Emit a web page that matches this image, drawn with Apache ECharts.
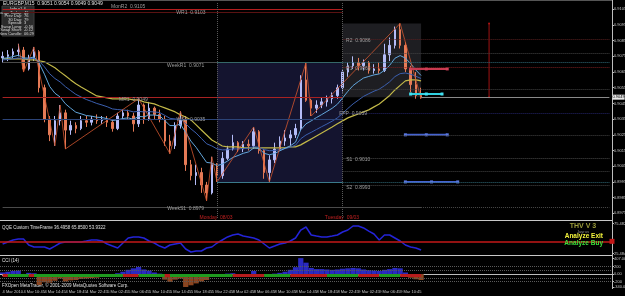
<!DOCTYPE html>
<html>
<head>
<meta charset="utf-8">
<script src="https://cdn.jsdelivr.net/npm/echarts@6.0.0/dist/echarts.min.js"></script>
<style>
  html, body { margin: 0; padding: 0; background: #000; }
  #chart { width: 625px; height: 296px; }
</style>
</head>
<body>
<div id="chart"></div>
<script>
// EURGBP M15 (hourly candles)

var timeLabels = ['4 Mar 2010', '4 Mar 10:45', '4 Mar 14:45', '4 Mar 18:45', '4 Mar 22:45',
  '5 Mar 02:45', '5 Mar 06:45', '5 Mar 10:45', '5 Mar 14:45', '5 Mar 18:45', '5 Mar 22:45',
  '8 Mar 02:45', '8 Mar 06:45', '8 Mar 10:45', '8 Mar 14:45', '8 Mar 18:45', '8 Mar 22:45',
  '9 Mar 02:45', '9 Mar 06:45', '9 Mar 10:45', '9 Mar 14:45'];

var priceTicks = [0.9105, 0.9095, 0.9085, 0.9075, 0.9065, 0.9055, 0.9045, 0.9035,
  0.9025, 0.9015, 0.9005, 0.8995, 0.8985, 0.8975];

// [open, close, low, high]
var candles = [
  [0.9074, 0.9075, 0.9071, 0.9078], [0.9075, 0.9076, 0.9072, 0.9079], [0.9076, 0.9078, 0.9074, 0.9080],
  [0.9078, 0.9079, 0.9075, 0.9083], [0.9079, 0.9067, 0.9065, 0.9081], [0.9067, 0.9074, 0.9066, 0.9076],
  [0.9074, 0.9078, 0.9072, 0.9081], [0.9078, 0.9055, 0.9052, 0.9079], [0.9055, 0.9035, 0.9033, 0.9057],
  [0.9035, 0.9025, 0.9021, 0.9037], [0.9025, 0.9034, 0.9018, 0.9037], [0.9034, 0.9039, 0.9031, 0.9044],
  [0.9039, 0.9028, 0.9016, 0.9041], [0.9028, 0.9031, 0.9025, 0.9034], [0.9031, 0.9029, 0.9026, 0.9033],
  [0.9029, 0.9034, 0.9028, 0.9037], [0.9034, 0.9033, 0.9030, 0.9037], [0.9033, 0.9035, 0.9031, 0.9037],
  [0.9035, 0.9034, 0.9032, 0.9038], [0.9034, 0.9035, 0.9032, 0.9037], [0.9035, 0.9033, 0.9030, 0.9037],
  [0.9033, 0.9029, 0.9027, 0.9035], [0.9029, 0.9037, 0.9028, 0.9039], [0.9037, 0.9039, 0.9035, 0.9041],
  [0.9039, 0.9037, 0.9035, 0.9041], [0.9037, 0.9032, 0.9027, 0.9039], [0.9032, 0.9044, 0.9030, 0.9048],
  [0.9044, 0.9035, 0.9032, 0.9045], [0.9035, 0.9042, 0.9034, 0.9046], [0.9042, 0.9038, 0.9035, 0.9043],
  [0.9038, 0.9035, 0.9033, 0.9041], [0.9035, 0.9021, 0.9018, 0.9037], [0.9021, 0.9018, 0.9013, 0.9025],
  [0.9018, 0.9031, 0.9016, 0.9033], [0.9031, 0.9035, 0.9029, 0.9040], [0.9035, 0.9006, 0.9002, 0.9037],
  [0.9006, 0.8999, 0.8996, 0.9009], [0.8999, 0.9001, 0.8993, 0.9006], [0.9001, 0.8993, 0.8988, 0.9004],
  [0.8993, 0.8988, 0.8983, 0.8995], [0.8988, 0.9006, 0.8987, 0.9011], [0.9006, 0.8999, 0.8995, 0.9007],
  [0.8999, 0.9010, 0.8997, 0.9014], [0.9010, 0.9016, 0.9009, 0.9018], [0.9016, 0.9020, 0.9015, 0.9025],
  [0.9020, 0.9016, 0.9014, 0.9021], [0.9016, 0.9019, 0.9014, 0.9021], [0.9019, 0.9018, 0.9015, 0.9022],
  [0.9018, 0.9027, 0.9016, 0.9030], [0.9027, 0.9015, 0.9013, 0.9028], [0.9015, 0.9001, 0.8997, 0.9016],
  [0.9001, 0.9009, 0.8995, 0.9012], [0.9009, 0.9016, 0.9007, 0.9020], [0.9016, 0.9021, 0.9015, 0.9024],
  [0.9021, 0.9023, 0.9018, 0.9028], [0.9023, 0.9025, 0.9018, 0.9028], [0.9025, 0.9029, 0.9023, 0.9032],
  [0.9029, 0.9060, 0.9028, 0.9063], [0.9060, 0.9047, 0.9046, 0.9071], [0.9047, 0.9042, 0.9037, 0.9048],
  [0.9042, 0.9044, 0.9039, 0.9047], [0.9044, 0.9046, 0.9042, 0.9049], [0.9046, 0.9048, 0.9043, 0.9050],
  [0.9048, 0.9050, 0.9045, 0.9052], [0.9050, 0.9055, 0.9048, 0.9057], [0.9055, 0.9065, 0.9052, 0.9067],
  [0.9065, 0.9069, 0.9062, 0.9071], [0.9069, 0.9071, 0.9067, 0.9075], [0.9071, 0.9069, 0.9066, 0.9074],
  [0.9069, 0.9071, 0.9066, 0.9073], [0.9071, 0.9066, 0.9064, 0.9072], [0.9066, 0.9067, 0.9064, 0.9070],
  [0.9067, 0.9066, 0.9064, 0.9071], [0.9066, 0.9076, 0.9065, 0.9083], [0.9076, 0.9082, 0.9072, 0.9087],
  [0.9082, 0.9092, 0.9080, 0.9094], [0.9092, 0.9082, 0.9080, 0.9096], [0.9082, 0.9067, 0.9065, 0.9084],
  [0.9067, 0.9057, 0.9052, 0.9069], [0.9057, 0.9050, 0.9048, 0.9065], [0.9050, 0.9049, 0.9048, 0.9055]
];

var maYellow = [0.90734, 0.90734, 0.90734, 0.90734, 0.90734, 0.90728, 0.90728, 0.90722, 0.90715, 0.90696,
  0.90677, 0.90651, 0.90626, 0.90600, 0.90575, 0.90555, 0.90536, 0.90517, 0.90498, 0.90492,
  0.90485, 0.90479, 0.90479, 0.90479, 0.90479, 0.90473, 0.90473, 0.90460, 0.90454, 0.90447,
  0.90434, 0.90422, 0.90409, 0.90396, 0.90377, 0.90364, 0.90345, 0.90313, 0.90281, 0.90249,
  0.90217, 0.90198, 0.90179, 0.90173, 0.90173, 0.90173, 0.90167, 0.90167, 0.90167, 0.90167,
  0.90167, 0.90167, 0.90167, 0.90167, 0.90167, 0.90173, 0.90173, 0.90186, 0.90205, 0.90224,
  0.90243, 0.90262, 0.90281, 0.90300, 0.90320, 0.90339, 0.90358, 0.90371, 0.90383, 0.90396,
  0.90409, 0.90428, 0.90447, 0.90473, 0.90501, 0.90536, 0.90565, 0.90594, 0.90600, 0.90600, 0.90594];

var maFast = [0.90737, 0.90741, 0.90748, 0.90757, 0.90740, 0.90739, 0.90746, 0.90706, 0.90636, 0.90558,
  0.90515, 0.90491, 0.90448, 0.90420, 0.90394, 0.90384, 0.90373, 0.90369, 0.90362, 0.90360,
  0.90353, 0.90341, 0.90346, 0.90354, 0.90358, 0.90349, 0.90367, 0.90365, 0.90376, 0.90376,
  0.90372, 0.90341, 0.90309, 0.90309, 0.90318, 0.90265, 0.90210, 0.90170, 0.90122, 0.90074,
  0.90070, 0.90054, 0.90063, 0.90083, 0.90106, 0.90118, 0.90132, 0.90141, 0.90166, 0.90163,
  0.90132, 0.90123, 0.90131, 0.90148, 0.90164, 0.90180, 0.90203, 0.90282, 0.90320, 0.90339,
  0.90360, 0.90379, 0.90399, 0.90419, 0.90445, 0.90485, 0.90527, 0.90564, 0.90589, 0.90612,
  0.90622, 0.90632, 0.90638, 0.90661, 0.90693, 0.90738, 0.90755, 0.90739, 0.90704, 0.90663, 0.90628];

var maSlow = [0.90727, 0.90730, 0.90735, 0.90740, 0.90734, 0.90734, 0.90738, 0.90719, 0.90683, 0.90639,
  0.90609, 0.90587, 0.90557, 0.90532, 0.90508, 0.90491, 0.90475, 0.90463, 0.90450, 0.90440,
  0.90429, 0.90415, 0.90411, 0.90408, 0.90405, 0.90396, 0.90400, 0.90396, 0.90398, 0.90396,
  0.90392, 0.90374, 0.90355, 0.90351, 0.90351, 0.90321, 0.90288, 0.90261, 0.90227, 0.90193,
  0.90179, 0.90160, 0.90154, 0.90155, 0.90160, 0.90160, 0.90163, 0.90164, 0.90174, 0.90171,
  0.90156, 0.90149, 0.90150, 0.90156, 0.90163, 0.90171, 0.90184, 0.90225, 0.90249, 0.90266,
  0.90284, 0.90302, 0.90319, 0.90337, 0.90358, 0.90387, 0.90418, 0.90447, 0.90471, 0.90495,
  0.90512, 0.90528, 0.90541, 0.90563, 0.90588, 0.90621, 0.90640, 0.90644, 0.90636, 0.90623, 0.90609];

// zigzag swing points [bar, price]
var zigzag = [[3, 0.9083], [4, 0.9065], [6, 0.9081], [10, 0.9018], [11, 0.9044], [12, 0.9016],
  [26, 0.9048], [32, 0.9013], [34, 0.9040], [39, 0.8983], [40, 0.9011], [41, 0.8995],
  [48, 0.9030], [51, 0.8995], [58, 0.9071], [59, 0.9037], [76, 0.9096], [80, 0.9048]];

var weekPivotNames = ['MonR2', 'WR1', 'WeekR1', 'MR1', 'WS1', 'WeekS1'];
var weekPivotValues = [0.9105, 0.9103, 0.9071, 0.9049, 0.9035, 0.8979];
var dayPivotNames = ['R2', 'R1', 'FPP', 'S1', 'S2'];
var dayPivotValues = [0.9086, 0.9068, 0.9039, 0.9010, 0.8993];
var otherLevels = [0.9077, 0.9054, 0.9025, 0.9002];
var mondayRange = [0.9071, 0.8995];
var tuesdayRange = [0.9096, 0.9049];
var bidPrice = 0.9049;

// trade level markers [bar, price]
var markerSell = [[78, 0.9067], [81, 0.9067], [85, 0.9067]];
var markerTp = [[78, 0.9051], [81, 0.9051], [84, 0.9051]];
var markerBuy1 = [[77, 0.9025], [81, 0.9025], [85, 0.9025]];
var markerBuy2 = [[77, 0.8995], [82, 0.8995], [87, 0.8995]];
var rangeBar = [[93, 0.9096], [93, 0.9049]];

var qqe = [41.6, 44.9, 48.2, 49.8, 49.8, 39.9, 36.6, 36.6, 36.6, 33.3,
  38.2, 43.2, 44.9, 44.9, 44.9, 44.9, 46.5, 48.2, 48.2, 46.5,
  41.6, 38.2, 34.9, 43.2, 51.5, 53.2, 53.2, 51.5, 46.5, 43.2,
  38.2, 34.9, 39.9, 41.6, 43.2, 33.3, 28.3, 30.0, 30.0, 34.9,
  36.6, 43.2, 48.2, 53.2, 56.5, 58.1, 54.8, 53.2, 51.5, 48.2,
  41.6, 34.9, 38.2, 41.6, 43.2, 46.5, 51.5, 64.7, 69.7, 56.5,
  54.8, 53.2, 53.2, 54.8, 56.5, 61.4, 64.7, 71.4, 71.4, 68.1,
  63.0, 58.1, 48.2, 56.5, 56.5, 51.5, 46.5, 39.9, 36.6, 34.9, 31.6];
var qqeLevel = 46;
var qqeTicks = [25.4846, 75.482];

var cci = [40, 60, 80, 90, -40, 30, 20, -290, -220, -230,
  -180, -120, -200, -170, -160, -130, -120, -110, -100, -80,
  -60, -50, 20, 60, 110, 150, 185, 120, 90, 40,
  10, -150, -210, -150, -120, -370, -300, -250, -200, -160,
  -60, -40, -20, 10, 20, -30, -40, -20, 80, -30,
  -60, -40, 10, 30, 60, 110, 180, 420, 300, 160,
  130, 130, 120, 110, 120, 140, 150, 160, 150, 120,
  100, 90, 80, 110, 130, 160, 150, 40, -100, -140, -160];
var cciTicks = [407.003, 200, 0, -200, -340.03];
var cciLevels = [200, 100, -100, -200];
// [fromBar, toBar, state]
var cciBands = [[0, 1, 'dn'], [1, 5, 'up'], [5, 6, 'dn'], [6, 23, 'up'], [23, 26, 'dn'], [26, 31, 'up'],
  [31, 32, 'dn'], [32, 44, 'up'], [44, 50, 'dn'], [50, 55, 'up'], [55, 62, 'dn'], [62, 68, 'up'],
  [68, 72, 'dn'], [72, 76, 'up'], [76, 80, 'dn']];

var infoRows = [['Range Today:', '46'], ['Prev Day:', '76'], ['30 Day:', '79'], ['Spread:', '3'],
  ['Swap Long:', '-0.56'], ['Swap Short:', '-0.12'], ['New Candle:', '06:29']];

var TOTAL_BARS = 117;
var cats = [];
for (var i = 0; i < TOTAL_BARS; i++) cats.push(String(i));

var chart = echarts.init(document.getElementById('chart'), null, { renderer: 'canvas' });

/** horizontal level segment */
function seg(from, to, price, color, type, width) {
  return [{ coord: [from, price], lineStyle: { color: color, type: type || 'solid', width: width || 1 } },
    { coord: [to, price] }];
}

var last = TOTAL_BARS - 1;
var levelLines = [
  seg(0, 65, weekPivotValues[0], '#b41e1e'),
  seg(0, 65, weekPivotValues[1], '#5a1212'),
  seg(0, 41, weekPivotValues[2], '#4a4a4a'),
  seg(41, 65, mondayRange[0], '#356868'),
  seg(65, last, mondayRange[0], '#2f6a78', 'dotted'),
  seg(0, 65, weekPivotValues[3], '#a82222'),
  seg(0, 65, weekPivotValues[4], '#2c4478'),
  seg(0, 80, weekPivotValues[5], '#4a4a4a'),
  seg(80, last, weekPivotValues[5], '#4a4a4a', 'dotted'),
  seg(41, 65, mondayRange[1], '#3a7a8a'),
  seg(65, last, mondayRange[1], '#2f6a78', 'dotted'),
  seg(65, last, dayPivotValues[0], '#5a2020', 'dotted'),
  seg(65, last, dayPivotValues[1], '#7a2020', 'dotted'),
  seg(65, last, dayPivotValues[2], '#24246a', 'dotted'),
  seg(65, last, dayPivotValues[3], '#4a4a4a', 'dotted'),
  seg(65, last, dayPivotValues[4], '#4a4a4a', 'dotted')
];
otherLevels.forEach(function (v) { levelLines.push(seg(65, last, v, '#444', 'dotted')); });
levelLines.push({ xAxis: 41, lineStyle: { color: '#5a5a5a', type: 'dotted', width: 1 } });
levelLines.push({ xAxis: 65, lineStyle: { color: '#5a5a5a', type: 'dotted', width: 1 } });
levelLines.push([
  { coord: [80, bidPrice], lineStyle: { color: '#8a8a8a', width: 1, type: 'solid' },
    label: { show: true, position: 'end', distance: 3, formatter: bidPrice.toFixed(4),
      backgroundColor: '#e8e8e8', color: '#000', fontSize: 4, padding: [1, 0, 0, 0] } },
  { coord: [last, bidPrice] }
]);

// label anchor bars for the pivot texts
var weekLabelBars = [24, 36, 35, 25, 36, 35];
var weekLabelOffsets = [0.00018, 0.0000, -0.00021, -0.00018, 0.0000, -0.00013];
var dayLabelBars = [68, 68, 67, 68, 68];
var dayLabelOffsets = [-0.00012, -0.00011, -0.00007, -0.0001, -0.00019];
var pivotTexts = [];
weekPivotNames.forEach(function (n, k) {
  pivotTexts.push({ name: n + '  ' + weekPivotValues[k].toFixed(4),
    coord: [weekLabelBars[k], weekPivotValues[k] + weekLabelOffsets[k]] });
});
dayPivotNames.forEach(function (n, k) {
  pivotTexts.push({ name: n + '  ' + dayPivotValues[k].toFixed(4),
    coord: [dayLabelBars[k], dayPivotValues[k] + dayLabelOffsets[k]] });
});

var bandLines = cciBands.map(function (b) {
  return [{ coord: [b[0], -25], lineStyle: { color: b[2] === 'up' ? '#1f9a1f' : '#b81c1c', width: 3, type: 'solid' } },
    { coord: [b[1], -25] }];
});
var cciDotted = cciLevels.map(function (v) {
  return { yAxis: v, lineStyle: { color: '#5a5a5a', type: 'dotted', width: 1 } };
});

function isLabelBar(i) { return i % 4 === 0 && i / 4 < timeLabels.length; }

var axisText = { color: '#c8c8c8', fontSize: 4, fontFamily: 'Liberation Sans' };

function xAx(grid, showLabels) {
  return {
    type: 'category', gridIndex: grid, data: cats, boundaryGap: true,
    axisLine: { show: showLabels, lineStyle: { color: '#bdbdbd' } },
    axisTick: { show: showLabels, alignWithLabel: true, interval: function (i) { return isLabelBar(i); },
      length: 2, lineStyle: { color: '#bdbdbd' } },
    axisLabel: { show: showLabels, interval: function (i) { return isLabelBar(i); },
      formatter: function (v, i) { return timeLabels[i / 4]; }, hideOverlap: false,
      align: 'left', margin: 3, color: '#c8c8c8', fontSize: 4, fontFamily: 'Liberation Sans' },
    splitLine: { show: false }
  };
}

var option = {
  backgroundColor: '#000',
  animation: false,
  textStyle: { fontFamily: 'Liberation Sans' },
  grid: [
    { left: 0, right: 13, top: 3, height: 215, outerBoundsMode: 'none', containLabel: false },
    { left: 0, right: 13, top: 222, height: 32, outerBoundsMode: 'none', containLabel: false },
    { left: 0, right: 13, top: 257, height: 30, outerBoundsMode: 'none', containLabel: false }
  ],
  xAxis: [xAx(0, false), xAx(1, false), xAx(2, true)],
  yAxis: [
    { type: 'value', gridIndex: 0, position: 'right', min: 0.8972, max: 0.9109, scale: true,
      axisLine: { show: false }, splitLine: { show: false },
      axisTick: { show: true, customValues: priceTicks, length: 2, lineStyle: { color: '#bdbdbd' } },
      axisLabel: Object.assign({ customValues: priceTicks, margin: 2,
        formatter: function (v) { return v.toFixed(4); } }, axisText) },
    { type: 'value', gridIndex: 1, position: 'right', min: 25, max: 78,
      axisLine: { show: false }, splitLine: { show: false },
      axisTick: { show: true, customValues: qqeTicks, length: 2, lineStyle: { color: '#bdbdbd' } },
      axisLabel: Object.assign({ customValues: qqeTicks, margin: 2,
        formatter: function (v) { return v.toFixed(4); } }, axisText) },
    { type: 'value', gridIndex: 2, position: 'right', min: -345, max: 450,
      axisLine: { show: false }, splitLine: { show: false },
      axisTick: { show: true, customValues: cciTicks, length: 2, lineStyle: { color: '#bdbdbd' } },
      axisLabel: Object.assign({ customValues: cciTicks, margin: 2,
        formatter: function (v) { return v === 0 ? '0.00' : String(v); } }, axisText) }
  ],
  series: [
    {
      type: 'candlestick', xAxisIndex: 0, yAxisIndex: 0, data: candles,
      barMaxWidth: 2, barMinWidth: 1,
      itemStyle: { color: '#b4bcf8', color0: '#e47a56', borderColor: '#b4bcf8', borderColor0: '#e47a56', borderWidth: 1 },
      markArea: {
        silent: true,
        data: [
          [{ coord: [41, mondayRange[0]], itemStyle: { color: '#14142f' } }, { coord: [65, mondayRange[1]] }],
          [{ coord: [65, tuesdayRange[0]], itemStyle: { color: '#1e1e22' } }, { coord: [80, tuesdayRange[1]] }]
        ]
      },
      markLine: { silent: true, symbol: 'none', label: { show: false }, data: levelLines },
      markPoint: {
        silent: true, symbol: 'rect', symbolSize: 1,
        itemStyle: { color: 'rgba(0,0,0,0)' },
        label: { show: true, position: 'inside', formatter: '{b}', color: '#9c9c9c', fontSize: 5 },
        data: pivotTexts
      }
    },
    { type: 'line', xAxisIndex: 0, yAxisIndex: 0, data: maYellow, symbol: 'none',
      lineStyle: { color: '#c2b848', width: 1.2 } },
    { type: 'line', xAxisIndex: 0, yAxisIndex: 0, data: maSlow, symbol: 'none',
      lineStyle: { color: '#3b5fae', width: 1 } },
    { type: 'line', xAxisIndex: 0, yAxisIndex: 0, data: maFast, symbol: 'none',
      lineStyle: { color: '#62a6dc', width: 1 } },
    { type: 'line', xAxisIndex: 0, yAxisIndex: 0, data: zigzag, symbol: 'none',
      lineStyle: { color: '#d0562e', width: 0.8 } },
    { type: 'line', xAxisIndex: 0, yAxisIndex: 0, data: rangeBar, symbol: 'circle', symbolSize: 2,
      itemStyle: { color: '#b01414' }, lineStyle: { color: '#a01212', width: 1 } },
    { type: 'line', xAxisIndex: 0, yAxisIndex: 0, data: markerSell, symbol: 'rect', symbolSize: 3,
      itemStyle: { color: '#d04058' }, lineStyle: { color: '#c83a50', width: 2 } },
    { type: 'line', xAxisIndex: 0, yAxisIndex: 0, data: markerTp, symbol: 'rect', symbolSize: 3,
      itemStyle: { color: '#40e0f0' }, lineStyle: { color: '#30d0e0', width: 2 } },
    { type: 'line', xAxisIndex: 0, yAxisIndex: 0, data: markerBuy1, symbol: 'rect', symbolSize: 3,
      itemStyle: { color: '#5a78e0' }, lineStyle: { color: '#4563d0', width: 2 } },
    { type: 'line', xAxisIndex: 0, yAxisIndex: 0, data: markerBuy2, symbol: 'rect', symbolSize: 3,
      itemStyle: { color: '#5a78e0' }, lineStyle: { color: '#4563d0', width: 2 } },
    {
      type: 'line', xAxisIndex: 1, yAxisIndex: 1, data: qqe, symbol: 'none',
      lineStyle: { color: '#2424d8', width: 1.5 },
      markLine: {
        silent: true, symbol: ['none', 'rect'], symbolSize: 5, label: { show: false },
        data: [{ yAxis: qqeLevel, lineStyle: { color: '#c41818', width: 1.5, type: 'solid' }, itemStyle: { color: '#d02020' } }]
      }
    },
    {
      type: 'bar', xAxisIndex: 2, yAxisIndex: 2, data: cci, barCategoryGap: '0%',
      itemStyle: { color: function (p) { return p.value >= 0 ? '#2a2ac0' : '#8a4520'; } },
      markLine: { silent: true, symbol: 'none', label: { show: false }, data: cciDotted.concat(bandLines) }
    }
  ],
  graphic: [
    { type: 'line', shape: { x1: 612.5, y1: 0, x2: 612.5, y2: 289 }, style: { stroke: '#bdbdbd', lineWidth: 1 } },
    { type: 'line', shape: { x1: 0, y1: 0.5, x2: 612, y2: 0.5 }, style: { stroke: '#555', lineWidth: 1 } },
    { type: 'line', shape: { x1: 0, y1: 220.5, x2: 612, y2: 220.5 }, style: { stroke: '#c8c8c8', lineWidth: 1 } },
    { type: 'line', shape: { x1: 0, y1: 255.5, x2: 612, y2: 255.5 }, style: { stroke: '#c8c8c8', lineWidth: 1 } },
    { type: 'text', left: 3, top: 1, style: { text: 'EURGBP,M15  0.9051 0.9054 0.9049 0.9049', fill: '#e0e0e0', fontSize: 5 } },
    { type: 'rect', shape: { x: 2, y: 6, width: 32, height: 30 }, style: { fill: '#2b2b2b', stroke: '#3c3c3c' } },
    { type: 'text', x: 18, y: 7, style: { text: '---- Info v1.4 ----', fill: '#e0e0e0', fontSize: 4, align: 'center' } }
  ].concat(infoRows.map(function (r, k) {
    return { type: 'group', children: [
      { type: 'text', x: 22, y: 10.8 + k * 3.5, style: { text: r[0], fill: '#d8d8d8', fontSize: 4, align: 'right' } },
      { type: 'text', x: 24, y: 10.8 + k * 3.5, style: { text: r[1], fill: '#d8d8d8', fontSize: 4, align: 'left' } }
    ] };
  })).concat([
    { type: 'text', x: 216, y: 215, style: { text: 'Monday  08/03', fill: '#c02020', fontSize: 5, align: 'center' } },
    { type: 'text', x: 342, y: 215, style: { text: 'Tuesday  09/03', fill: '#c02020', fontSize: 5, align: 'center' } },
    { type: 'text', x: 2, y: 225, style: { text: 'QQE Custom TimeFrame 36.4958 65.8500 53.9322', fill: '#e0e0e0', fontSize: 4.5 } },
    { type: 'text', x: 2, y: 258, style: { text: 'CCI (14)', fill: '#e0e0e0', fontSize: 4.5 } },
    { type: 'text', x: 2, y: 283, style: { text: 'FXOpen MetaTrader, \u00a9 2001-2009 MetaQuotes Software Corp.', fill: '#e0e0e0', fontSize: 4.5 } },
    { type: 'text', z: 100, x: 583, y: 223, style: { text: 'THV V 3', fill: '#9c9c3a', fontSize: 7, fontWeight: 'bold', align: 'center' } },
    { type: 'text', z: 100, x: 583, y: 230, style: { text: 'Jayrus', fill: '#8a8a8a', fontSize: 4, align: 'center' } },
    { type: 'text', z: 100, x: 603, y: 233, style: { text: 'Analyze Exit', fill: '#f4f43c', fontSize: 6.5, fontWeight: 'bold', align: 'right' } },
    { type: 'text', z: 100, x: 603, y: 240, style: { text: 'Analyze Buy', fill: '#3ce03c', fontSize: 6.5, fontWeight: 'bold', align: 'right' } }
  ])
};

chart.setOption(option);
</script>
</body>
</html>
